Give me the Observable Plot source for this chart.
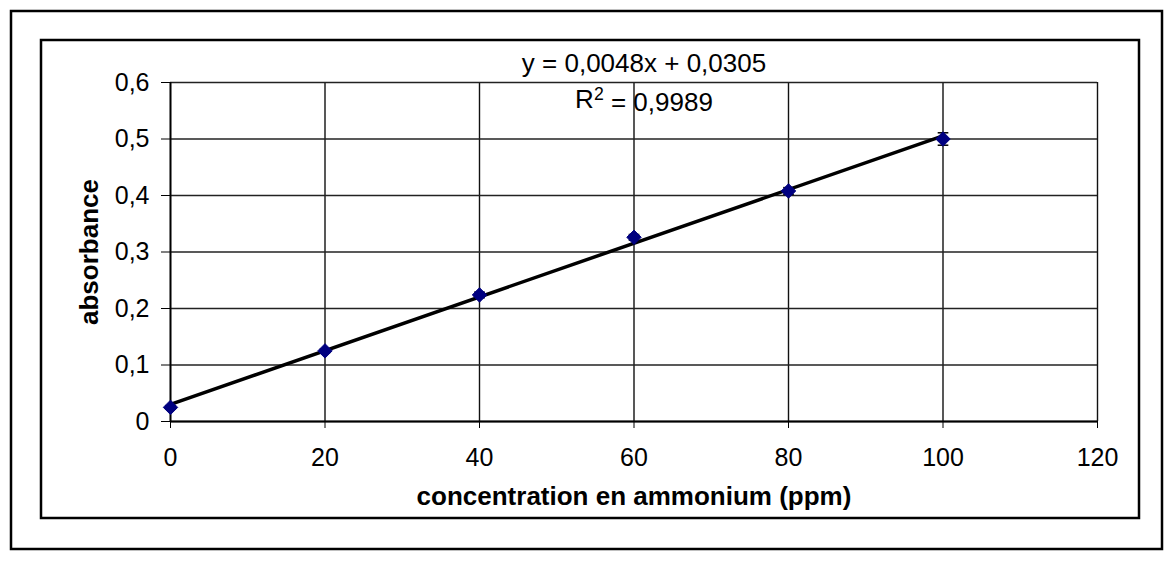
<!DOCTYPE html>
<html><head><meta charset="utf-8">
<script src="https://cdn.jsdelivr.net/npm/d3@7"></script>
<script src="https://cdn.jsdelivr.net/npm/@observablehq/plot@0.6"></script>
<style>
html,body{margin:0;padding:0;background:#fff;}
#chart{position:relative;width:1174px;height:576px;}
</style></head><body><div id="chart"></div>
<script>
const concentration = [0, 20, 40, 60, 80, 100];
const absorbance = [0.025, 0.125, 0.224, 0.326, 0.408, 0.5];
const errors = [0.003, 0.003, 0.005, 0.005, 0.006, 0.011];
const xTicks = [0, 20, 40, 60, 80, 100, 120];
const yTicks = [0, 0.1, 0.2, 0.3, 0.4, 0.5, 0.6];
const equationLabel = "y = 0,0048x + 0,0305";
const r2Label = "R² = 0,9989";
const xTitle = "concentration en ammonium (ppm)";
const yTitle = "absorbance";

const data = concentration.map((c, i) => ({x: c, y: absorbance[i], e: errors[i]}));
const fmt = d => d === 0 ? "0" : d3.format(".1f")(d).replace(".", ",");
const font = "'Liberation Sans', Arial, sans-serif";

const capSymbol = {draw(ctx, size) { const w = Math.sqrt(size); ctx.moveTo(-w, 0); ctx.lineTo(w, 0); }};

const plot = Plot.plot({
  width: 1174, height: 576,
  marginLeft: 170, marginRight: 77, marginTop: 82, marginBottom: 155,
  x: {domain: [0, 120]},
  y: {domain: [0, 0.6]},
  style: {fontFamily: font, fontSize: "25px", color: "#000", background: "#fff", overflow: "visible"},
  marks: [
    Plot.gridX(xTicks, {stroke: "#111", strokeOpacity: 1, strokeWidth: 1.4}),
    Plot.gridY(yTicks, {stroke: "#222", strokeOpacity: 1, strokeWidth: 1.4}),
    Plot.axisX(xTicks, {tickSize: 7, tickPadding: 20, tickFormat: d => String(d), label: null, fontSize: 25, stroke: "#000"}),
    Plot.axisY(yTicks, {tickSize: 9, tickPadding: 12, tickFormat: fmt, label: null, fontSize: 25, stroke: "#000"}),
    Plot.ruleX([0], {stroke: "#000", strokeWidth: 1.8}),
    Plot.ruleY([0], {stroke: "#000", strokeWidth: 1.8}),
    Plot.linearRegressionY(data, {x: "x", y: "y", ci: 0, stroke: "#000", strokeWidth: 3.5}),
    Plot.ruleX(data, {x: "x", y1: d => d.y - d.e, y2: d => d.y + d.e, stroke: "#000", strokeWidth: 1.5}),
    Plot.dot(data, {x: "x", y: d => d.y + d.e, symbol: capSymbol, r: 3, stroke: "#000", strokeWidth: 1.5, fill: "none"}),
    Plot.dot(data, {x: "x", y: d => d.y - d.e, symbol: capSymbol, r: 3, stroke: "#000", strokeWidth: 1.5, fill: "none"}),
    Plot.dot(data, {x: "x", y: "y", symbol: "diamond2", r: 6.5, fill: "#000080", stroke: "#000080", strokeWidth: 1}),
    Plot.text([equationLabel], {text: d => d, frameAnchor: "top", dx: 10, dy: -11, lineAnchor: "bottom", fontSize: 26, fill: "#000"}),
    Plot.text([r2Label], {text: d => d, frameAnchor: "top", dx: 10, dy: 25, lineAnchor: "bottom", fontSize: 26, fill: "#000", className: "r2label"}),
    Plot.text([xTitle], {text: d => d, frameAnchor: "bottom", textAnchor: "middle", dy: 75, lineAnchor: "middle", fontSize: 26, fontWeight: "bold", fill: "#000"}),
    Plot.text([yTitle], {text: d => d, frameAnchor: "left", textAnchor: "middle", dx: -81, rotate: -90, lineAnchor: "middle", fontSize: 26, fontWeight: "bold", fill: "#000"})
  ]
});

// Render the R² with a true superscript 2
d3.select(plot).selectAll("g.r2label text").each(function() {
  const t = d3.select(this);
  const s = t.text();
  const rest = s.slice(2);
  t.text(null);
  t.append("tspan").text("R");
  t.append("tspan").attr("dy", "-0.42em").attr("font-size", "0.68em").text("2");
  t.append("tspan").attr("dy", "0.42em").text(rest);
});

const svg = d3.select(plot);
svg.append("rect").attr("x", 11).attr("y", 11).attr("width", 1151).attr("height", 538)
  .attr("fill", "none").attr("stroke", "#000").attr("stroke-width", 2.5);
svg.append("rect").attr("x", 41).attr("y", 40).attr("width", 1098).attr("height", 478)
  .attr("fill", "none").attr("stroke", "#000").attr("stroke-width", 2.5);

document.getElementById("chart").appendChild(plot);
</script></body></html>
